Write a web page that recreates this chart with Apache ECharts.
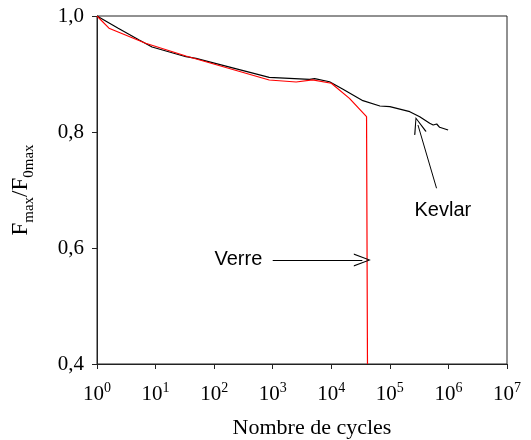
<!DOCTYPE html>
<html><head><meta charset="utf-8">
<script src="https://cdn.jsdelivr.net/npm/echarts@6/dist/echarts.min.js"></script>
<style>html,body{margin:0;padding:0;background:#fff}#c{width:531px;height:440px}</style>
</head><body><div id="c"></div>
<script>
// Kevlar (black)
const kevlarX = [1, 2.3, 5.25, 8.7, 33, 49, 871, 4266, 5200, 9333, 15850, 34670, 67600, 100000, 218800, 323600, 478600, 549500, 631000, 707900, 988600];
const kevlarY = [1.0, 0.979, 0.9586, 0.9466, 0.9298, 0.927, 0.8943, 0.8908, 0.892, 0.8867, 0.8736, 0.854, 0.8448, 0.8437, 0.835, 0.8264, 0.815, 0.8121, 0.8138, 0.8081, 0.8034];
// Verre (red)
const verreX = [1, 1.6, 6.76, 33, 871, 2512, 4786, 10000, 20420, 40000, 41500];
const verreY = [1.0, 0.979, 0.953, 0.931, 0.8897, 0.8862, 0.890, 0.884, 0.858, 0.8264, 0.4];
// Axis ticks
const yTicks = [0.4, 0.6, 0.8, 1.0];
const xExponents = [0, 1, 2, 3, 4, 5, 6, 7];
// Annotations
const verreArrow = [[1000, 0.5793], [33900, 0.5793]];
const kevlarArrow = [[626600, 0.703], [302000, 0.812]];
const verreLabel = [259, 0.5795];
const kevlarLabel = [803500, 0.664];

const axisColor = '#222';
const serif = '"Liberation Serif", "DejaVu Serif", serif';
const sans = '"Liberation Sans", Arial, sans-serif';
const chevron = 'path://M5,0 L10,10 L9,10 L5,1.6 L1,10 L0,10 Z';

const chart = echarts.init(document.getElementById('c'), null, {renderer: 'canvas'});
chart.setOption({
  animation: false,
  backgroundColor: '#fff',
  grid: {left: 97, top: 16, right: 24, bottom: 76, show: true, borderColor: axisColor, borderWidth: 1,
         containLabel: false, outerBoundsMode: 'none'},
  xAxis: {
    type: 'log', logBase: 10, min: 1, max: 1e7, splitNumber: 7,
    name: 'Nombre de cycles', nameLocation: 'middle', nameGap: 53,
    nameTextStyle: {fontFamily: serif, fontSize: 22, color: '#000', padding: [0, 0, 0, 20]},
    axisLine: {lineStyle: {color: axisColor}},
    axisTick: {show: true, inside: false, length: 5, lineStyle: {color: axisColor}},
    minorTick: {show: false},
    splitLine: {show: false},
    axisLabel: {
      margin: 17,
      formatter: v => '{b|10}{s|' + Math.round(Math.log10(v)) + '}',
      rich: {
        b: {fontFamily: serif, fontSize: 21, color: '#000', lineHeight: 24, verticalAlign: 'bottom'},
        s: {fontFamily: serif, fontSize: 14, color: '#000', lineHeight: 14, verticalAlign: 'top'}
      }
    }
  },
  yAxis: {
    type: 'value', min: 0.4, max: 1.0, interval: 0.2,
    name: '{b|F}{s|max}{b|/F}{s|0max}', nameLocation: 'middle', nameGap: 60, nameRotate: 90,
    nameTextStyle: {
      rich: {
        b: {fontFamily: serif, fontSize: 23, color: '#000', lineHeight: 28, verticalAlign: 'top'},
        s: {fontFamily: serif, fontSize: 15, color: '#000', lineHeight: 16, verticalAlign: 'bottom'}
      }
    },
    axisLine: {show: true, lineStyle: {color: axisColor}},
    axisTick: {show: true, inside: false, length: 5, lineStyle: {color: axisColor}},
    splitLine: {show: false},
    axisLabel: {
      margin: 13, fontFamily: serif, fontSize: 21, color: '#000',
      formatter: v => v.toFixed(1).replace('.', ',')
    }
  },
  series: [
    {
      name: 'Kevlar', type: 'line', symbol: 'none', silent: true,
      data: kevlarX.map((x, i) => [x, kevlarY[i]]),
      lineStyle: {color: '#000', width: 1.2},
      markLine: {
        silent: true, symbol: ['none', chevron], symbolSize: [13, 17],
        label: {show: false},
        lineStyle: {color: '#000', width: 1, type: 'solid'},
        data: [[{coord: kevlarArrow[0]}, {coord: kevlarArrow[1]}]]
      },
      markPoint: {
        silent: true, symbol: 'circle', symbolSize: 0,
        label: {show: true, position: 'inside', formatter: 'Kevlar', fontFamily: sans, fontSize: 20, color: '#000'},
        data: [{coord: kevlarLabel}]
      }
    },
    {
      name: 'Verre', type: 'line', symbol: 'none', silent: true,
      data: verreX.map((x, i) => [x, verreY[i]]),
      lineStyle: {color: '#ff0000', width: 1.2},
      markLine: {
        silent: true, symbol: ['none', chevron], symbolSize: [13, 17],
        label: {show: false},
        lineStyle: {color: '#000', width: 1, type: 'solid'},
        data: [[{coord: verreArrow[0]}, {coord: verreArrow[1]}]]
      },
      markPoint: {
        silent: true, symbol: 'circle', symbolSize: 0,
        label: {show: true, position: 'inside', formatter: 'Verre', fontFamily: sans, fontSize: 20, color: '#000'},
        data: [{coord: verreLabel}]
      }
    }
  ]
});
</script></body></html>
